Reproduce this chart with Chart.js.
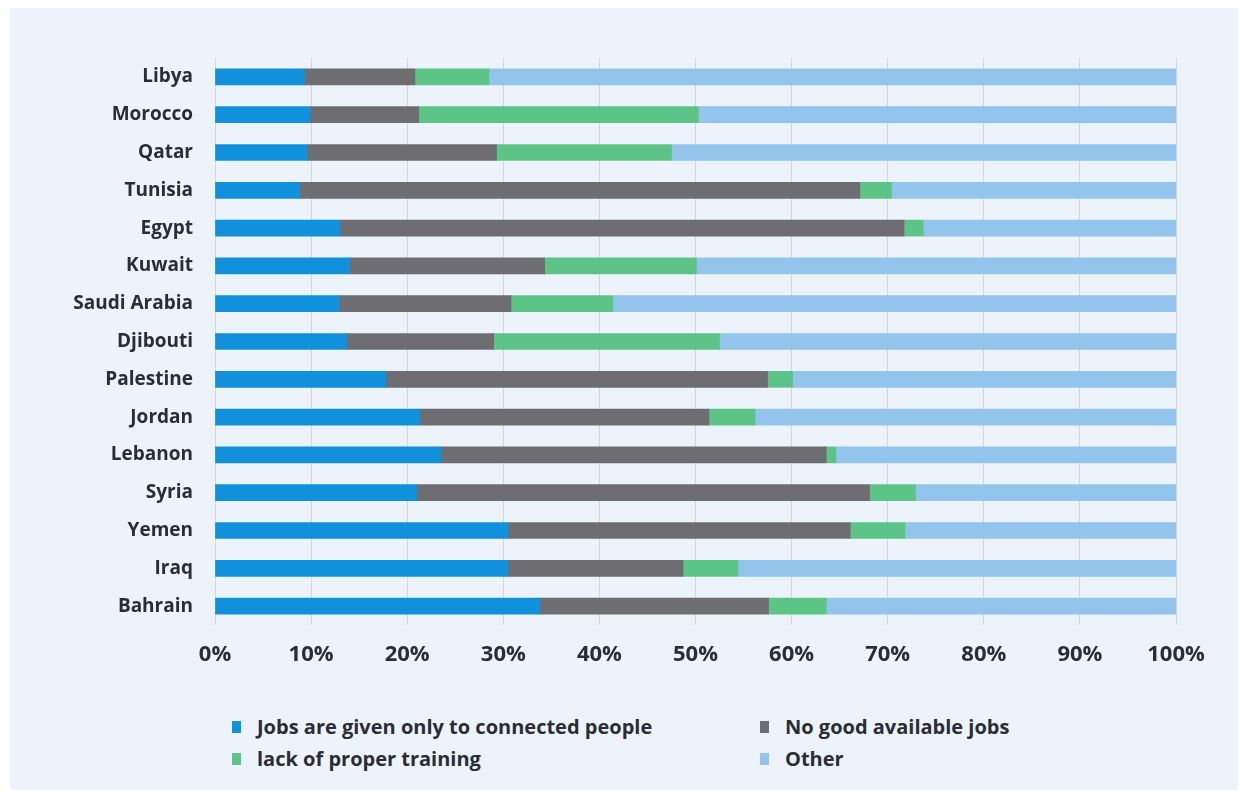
<!DOCTYPE html>
<html>
<head>
<meta charset="utf-8">
<script src="https://cdn.jsdelivr.net/npm/chart.js@4/dist/chart.umd.min.js"></script>
<style>
  html, body { margin: 0; padding: 0; background: #ffffff; }
  body { width: 1241px; height: 794px; position: relative; overflow: hidden; font-family: "Open Sans", Roboto, sans-serif; }
  .panel { position: absolute; left: 10px; top: 8px; width: 1228px; height: 782px; background: #edf3fa; }
  .chart-box { position: absolute; left: 0; top: 0; width: 1241px; height: 700px; }
  .legend { position: absolute; left: 232px; top: 713px; display: grid; grid-template-columns: 528px auto; row-gap: 5px; }
  .legend-item { display: flex; align-items: center; font-weight: 700; font-size: 20px; color: #2a2d35; height: 27px; letter-spacing: 0px; }
  .legend-item span.box { display: inline-block; width: 9px; height: 12px; margin-right: 16px; }
</style>
</head>
<body>
<div class="panel"></div>
<div class="chart-box"><canvas id="barChart" width="1241" height="700"></canvas></div>
<div class="legend" id="legend"></div>
<script>
// Data (percent of respondents)
const countries = ['Libya', 'Morocco', 'Qatar', 'Tunisia', 'Egypt', 'Kuwait', 'Saudi Arabia', 'Djibouti',
    'Palestine', 'Jordan', 'Lebanon', 'Syria', 'Yemen', 'Iraq', 'Bahrain'];
const jobsConnected = [9.3, 9.9, 9.6, 8.8, 13.0, 14.0, 12.9, 13.7, 17.8, 21.3, 23.5, 21.0, 30.5, 30.5, 33.8];
const noGoodJobs    = [11.5, 11.3, 19.7, 58.3, 58.7, 20.3, 17.9, 15.3, 39.7, 30.1, 40.1, 47.1, 35.6, 18.2, 23.8];
const lackTraining  = [7.7, 29.1, 18.2, 3.3, 2.0, 15.8, 10.6, 23.5, 2.6, 4.8, 1.0, 4.8, 5.7, 5.7, 6.0];
const other         = [71.5, 49.7, 52.5, 29.6, 26.3, 49.9, 58.6, 47.5, 39.9, 43.8, 35.4, 27.1, 28.2, 45.6, 36.4];
const seriesNames = ['Jobs are given only to connected people', 'No good available jobs', 'lack of proper training', 'Other'];
const seriesColors = ['#1190dc', '#6d6d72', '#5cc486', '#93c4ec'];
const tickValues = [0, 10, 20, 30, 40, 50, 60, 70, 80, 90, 100];

const textColor = '#2a2d35';
const seriesData = [jobsConnected, noGoodJobs, lackTraining, other];

const chart = new Chart(document.getElementById('barChart'), {
    type: 'bar',
    data: {
        labels: countries,
        datasets: seriesData.map((d, i) => ({
            label: seriesNames[i],
            data: d,
            backgroundColor: seriesColors[i],
            borderWidth: 0,
            barThickness: 16
        }))
    },
    options: {
        indexAxis: 'y',
        responsive: false,
        animation: false,
        layout: { padding: { top: 58, right: 65, left: 0, bottom: 0 } },
        scales: {
            x: {
                stacked: true,
                min: 0,
                max: 100,
                afterBuildTicks: (scale) => { scale.ticks = tickValues.map(v => ({ value: v })); },
                afterFit: (scale) => { scale.height = 75; },
                border: { display: false },
                grid: { color: '#d3d7dd', lineWidth: 1, drawTicks: false },
                ticks: {
                    padding: 17,
                    color: textColor,
                    font: { family: 'Open Sans', size: 22, weight: '700' },
                    callback: (v) => v + '%'
                }
            },
            y: {
                stacked: true,
                afterFit: (scale) => { scale.width = 215; },
                border: { display: false },
                grid: { display: false },
                ticks: {
                    padding: 14,
                    color: textColor,
                    font: { family: 'Open Sans', size: 19, weight: '700' }
                }
            }
        },
        plugins: {
            legend: { display: false },
            tooltip: { enabled: false }
        }
    }
});

// HTML legend in two columns
const legendEl = document.getElementById('legend');
[0, 1, 2, 3].forEach(i => {
    const item = document.createElement('div');
    item.className = 'legend-item';
    const box = document.createElement('span');
    box.className = 'box';
    box.style.background = seriesColors[i];
    item.appendChild(box);
    item.appendChild(document.createTextNode(seriesNames[i]));
    legendEl.appendChild(item);
});
</script>
</body>
</html>
